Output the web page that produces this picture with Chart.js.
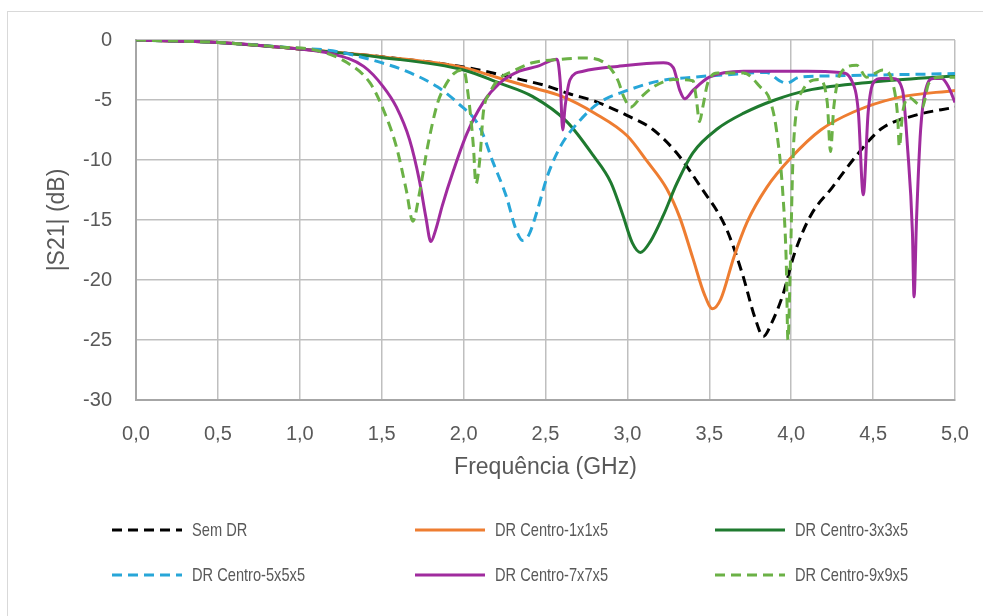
<!DOCTYPE html>
<html>
<head>
<meta charset="utf-8">
<script src="https://cdn.jsdelivr.net/npm/chart.js@4.4.1/dist/chart.umd.min.js"></script>
<style>
    html, body { margin: 0; padding: 0; background: #fff; }
    #wrap { position: relative; width: 983px; height: 616px; overflow: hidden; font-family: "Liberation Sans", Arial, sans-serif; }
    #frame { position: absolute; left: 7px; top: 11px; width: 1000px; height: 640px; border: 1px solid #d9d9d9; box-sizing: border-box; }
    #chart { position: absolute; left: 0; top: 0; }
    .leg-item { position: absolute; display: flex; align-items: center; font-size: 19px; color: #595959; white-space: nowrap; }
    .leg-item svg { margin-right: 10px; flex: none; }
    .leg-item span { display: inline-block; transform: scaleX(0.77); transform-origin: left center; }
</style>
</head>
<body>
<div id="wrap">
    <div id="frame"></div>
    <canvas id="chart" width="983" height="616"></canvas>
    <div id="legend"></div>
</div>
<script>
// frequency ticks (GHz) and dB ticks
var xTicks = [0, 0.5, 1.0, 1.5, 2.0, 2.5, 3.0, 3.5, 4.0, 4.5, 5.0];
var yTicks = [0, -5, -10, -15, -20, -25, -30];

var seriesNames = ['Sem DR', 'DR Centro-1x1x5', 'DR Centro-3x3x5', 'DR Centro-5x5x5', 'DR Centro-7x7x5', 'DR Centro-9x9x5'];
var seriesColors = ['#000000', '#ee7d31', '#1f7a2f', '#27a6d8', '#a02b9e', '#6bb146'];
var seriesDashed = [true, false, false, true, false, true];

// Sem DR
var semDrX = [0, 0.5, 1.0, 1.5, 2.0, 2.35, 2.5, 2.65, 2.8, 3.0, 3.15, 3.3, 3.45, 3.6, 3.7, 3.78, 3.83, 3.88, 3.95, 4.02, 4.12, 4.25, 4.4, 4.55, 4.75, 5.0];
var semDrY = [0, -0.2, -0.75, -1.4, -2.25, -3.3, -3.8, -4.5, -5.1, -6.3, -7.4, -9.4, -12.3, -15.6, -19.4, -23.2, -24.7, -23.6, -21.2, -17.8, -14.6, -12.3, -9.6, -7.4, -6.3, -5.6];

// DR Centro-1x1x5
var dr1X = [0, 0.5, 1.0, 1.5, 2.0, 2.2, 2.4, 2.6, 2.8, 3.0, 3.12, 3.24, 3.32, 3.4, 3.47, 3.52, 3.57, 3.65, 3.73, 3.85, 4.0, 4.18, 4.38, 4.65, 5.0];
var dr1Y = [0, -0.2, -0.75, -1.4, -2.3, -3.1, -3.9, -4.7, -6.1, -8.0, -10.1, -12.4, -14.8, -18.2, -21.2, -22.4, -21.6, -18.1, -15.2, -12.3, -9.8, -7.5, -6.0, -4.8, -4.2];

// DR Centro-3x3x5
var dr3X = [0, 0.5, 1.0, 1.5, 2.0, 2.22, 2.42, 2.63, 2.79, 2.9, 2.97, 3.03, 3.08, 3.14, 3.22, 3.3, 3.4, 3.55, 3.71, 3.9, 4.1, 4.5, 5.0];
var dr3Y = [0, -0.2, -0.75, -1.45, -2.5, -3.6, -4.7, -6.8, -9.6, -11.9, -14.5, -16.9, -17.7, -16.8, -14.6, -12.0, -9.4, -7.4, -6.1, -5.0, -4.2, -3.5, -3.0];

// DR Centro-5x5x5
var dr5X = [0, 0.5, 1.0, 1.2, 1.45, 1.65, 1.84, 1.96, 2.1, 2.18, 2.26, 2.32, 2.36, 2.4, 2.45, 2.51, 2.59, 2.71, 2.83, 3.0, 3.2, 3.4, 3.6, 3.85, 3.93, 3.97, 4.05, 4.2, 4.6, 5.0];
var dr5Y = [0, -0.2, -0.7, -0.9, -1.7, -2.6, -3.9, -5.2, -7.3, -10.2, -13.0, -15.8, -16.7, -16.2, -14.2, -11.4, -8.9, -6.7, -5.2, -4.2, -3.4, -3.1, -2.9, -2.7, -3.4, -3.6, -3.1, -3.0, -2.9, -2.8];

// DR Centro-7x7x5
var dr7X = [0, 0.5, 1.0, 1.18, 1.39, 1.51, 1.59, 1.67, 1.73, 1.77, 1.8, 1.83, 1.87, 1.94, 2.02, 2.12, 2.22, 2.34, 2.45, 2.57, 2.59, 2.605, 2.62, 2.65, 2.73, 2.94, 3.22, 3.28, 3.32, 3.35, 3.4, 3.5, 3.71, 4.1, 4.3, 4.37, 4.41, 4.44, 4.47, 4.5, 4.55, 4.62, 4.68, 4.71, 4.74, 4.75, 4.765, 4.79, 4.82, 4.87, 4.92, 4.96, 5.0];
var dr7Y = [0, -0.2, -0.75, -1.1, -2.2, -3.9, -5.6, -8.3, -11.7, -14.8, -16.8, -15.8, -13.8, -10.8, -7.8, -5.2, -3.6, -2.6, -2.2, -1.6, -3.5, -7.5, -5.5, -3.3, -2.6, -2.2, -1.9, -2.3, -4.2, -4.9, -4.2, -3.1, -2.6, -2.6, -2.7, -3.4, -6.0, -12.9, -6.0, -3.6, -3.2, -3.2, -4.2, -8.9, -16.0, -21.4, -15.0, -7.5, -4.2, -3.2, -3.2, -3.9, -5.2];

// DR Centro-9x9x5
var dr9X = [0, 0.5, 0.9, 1.08, 1.29, 1.43, 1.51, 1.59, 1.65, 1.69, 1.73, 1.78, 1.84, 1.88, 1.94, 2.0, 2.03, 2.06, 2.075, 2.1, 2.12, 2.16, 2.22, 2.3, 2.42, 2.6, 2.73, 2.87, 2.94, 2.98, 3.02, 3.08, 3.16, 3.28, 3.4, 3.42, 3.44, 3.46, 3.49, 3.55, 3.71, 3.81, 3.87, 3.91, 3.95, 3.97, 3.98, 3.995, 4.01, 4.03, 4.07, 4.17, 4.22, 4.24, 4.26, 4.3, 4.4, 4.46, 4.56, 4.62, 4.65, 4.66, 4.68, 4.72, 4.77, 4.8, 4.84, 4.91, 5.0];
var dr9Y = [0, -0.2, -0.6, -0.8, -1.9, -3.6, -5.8, -8.9, -12.5, -15.1, -12.8, -8.9, -5.3, -4.0, -2.8, -2.5, -4.8, -8.9, -12.0, -9.8, -6.1, -4.4, -3.2, -2.6, -1.9, -1.6, -1.5, -2.0, -3.3, -4.8, -5.6, -4.8, -3.9, -3.3, -3.4, -4.8, -6.8, -5.6, -3.6, -2.75, -2.75, -3.9, -5.0, -7.5, -13.0, -18.6, -25.0, -18.6, -10.2, -6.1, -4.2, -3.3, -5.2, -9.3, -5.6, -2.8, -2.1, -3.1, -2.5, -3.6, -6.4, -8.9, -6.1, -4.8, -5.3, -5.6, -3.6, -3.1, -3.1];

var seriesX = [semDrX, dr1X, dr3X, dr5X, dr7X, dr9X];
var seriesY = [semDrY, dr1Y, dr3Y, dr5Y, dr7Y, dr9Y];

var textColor = '#595959';
var fontFamily = '"Liberation Sans", Arial, sans-serif';

var toPoints = function (xs, ys) {
    var pts = [];
    for (var i = 0; i < xs.length; i++) {
        pts.push({ x: xs[i], y: ys[i] });
    }
    return pts;
}

var buildDatasets = function () {
    var sets = [];
    seriesNames.forEach(function (name, i) {
        sets.push({
            label: name,
            data: toPoints(seriesX[i], seriesY[i]),
            borderColor: seriesColors[i],
            backgroundColor: seriesColors[i],
            borderWidth: 3,
            borderDash: seriesDashed[i] ? [10, 6] : [],
            pointRadius: 0,
            cubicInterpolationMode: 'monotone',
            fill: false,
            order: seriesNames.length - i // later series on top, like Excel
        });
    });
    return sets;
}

var renderChart = function () {
    var ctx = document.getElementById('chart').getContext('2d');
    new Chart(ctx, {
        type: 'line',
        data: { datasets: buildDatasets() },
        options: {
            responsive: false,
            animation: false,
            layout: { padding: { left: 0, top: 40, right: 28, bottom: 134 } },
            plugins: { legend: { display: false }, tooltip: { enabled: false } },
            scales: {
                x: {
                    type: 'linear',
                    min: 0,
                    max: 5,
                    afterBuildTicks: function (scale) {
                        scale.ticks = xTicks.map(function (v) { return { value: v }; });
                    },
                    afterFit: function (scale) {
                        scale.height = 82;
                        // label overhang is already covered by the layout padding
                        scale.paddingLeft = 0;
                        scale.paddingRight = 0;
                    },
                    grid: { color: '#bfbfbf', lineWidth: 1.5, drawTicks: false },
                    border: { color: '#a6a6a6', width: 2 },
                    ticks: {
                        padding: 22,
                        color: textColor,
                        font: { family: fontFamily, size: 20 },
                        maxRotation: 0,
                        callback: function (v) { return v.toFixed(1).replace('.', ','); }
                    },
                    title: {
                        display: true,
                        text: 'Frequência (GHz)',
                        color: textColor,
                        font: { family: fontFamily, size: 23 },
                        padding: { top: 0, bottom: 1 }
                    }
                },
                y: {
                    type: 'linear',
                    min: -30,
                    max: 0,
                    afterBuildTicks: function (scale) {
                        scale.ticks = yTicks.map(function (v) { return { value: v }; });
                    },
                    afterFit: function (scale) {
                        scale.width = 136;
                        scale.paddingTop = 0;
                        scale.paddingBottom = 0;
                    },
                    grid: { color: '#bfbfbf', lineWidth: 1.5, drawTicks: false },
                    border: { color: '#a6a6a6', width: 2 },
                    ticks: {
                        padding: 24,
                        color: textColor,
                        font: { family: fontFamily, size: 20 }
                    },
                    title: {
                        display: true,
                        text: '|S21| (dB)',
                        color: textColor,
                        font: { family: fontFamily, size: 23 },
                        padding: { top: 44, bottom: 0 }
                    }
                }
            }
        }
    });
}

var renderLegend = function () {
    var cols = [112, 415, 715];
    var rows = [530, 575];
    var html = '';
    seriesNames.forEach(function (name, i) {
        var left = cols[i % 3];
        var top = rows[Math.floor(i / 3)] - 12;
        var dash = seriesDashed[i] ? ' stroke-dasharray="10 6"' : '';
        html += '<div class="leg-item" style="left:' + left + 'px;top:' + top + 'px;height:24px">' +
            '<svg width="70" height="6"><line x1="0" y1="3" x2="70" y2="3" stroke="' + seriesColors[i] + '" stroke-width="3"' + dash + '/></svg>' +
            '<span>' + name + '</span></div>';
    });
    document.getElementById('legend').innerHTML = html;
}

renderChart();
renderLegend();
</script>
</body>
</html>
